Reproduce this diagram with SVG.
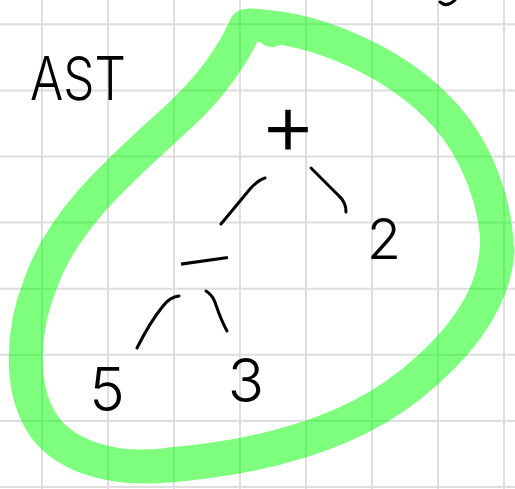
<svg xmlns="http://www.w3.org/2000/svg" width="515" height="489" viewBox="0 0 515 489">
<style>
.grid line{stroke:#dedede;stroke-width:2}
.loop path{fill:none;stroke:#00ff00;stroke-linecap:round;stroke-linejoin:round}
.hand{font-family:Inter,"Open Sans","Liberation Sans",sans-serif;font-weight:300;fill:#000}
.edge{fill:none;stroke:#000;stroke-width:3;stroke-linecap:round;stroke-linejoin:round}
</style>
<rect width="515" height="489" fill="#fff"/>
<g class="grid">
<line x1="42" y1="0" x2="42" y2="489"/><line x1="108" y1="0" x2="108" y2="489"/><line x1="174" y1="0" x2="174" y2="489"/><line x1="240" y1="0" x2="240" y2="489"/><line x1="306" y1="0" x2="306" y2="489"/><line x1="372" y1="0" x2="372" y2="489"/><line x1="438" y1="0" x2="438" y2="489"/><line x1="504" y1="0" x2="504" y2="489"/>
<line x1="0" y1="24.3" x2="515" y2="24.3"/><line x1="0" y1="90.4" x2="515" y2="90.4"/><line x1="0" y1="156.5" x2="515" y2="156.5"/><line x1="0" y1="222.6" x2="515" y2="222.6"/><line x1="0" y1="288.7" x2="515" y2="288.7"/><line x1="0" y1="354.8" x2="515" y2="354.8"/><line x1="0" y1="420.9" x2="515" y2="420.9"/><line x1="0" y1="487" x2="515" y2="487"/>
</g>
<g id="loop" class="loop" opacity="0.5">
<path stroke-width="33" d="M250 25 C320 27 400 65 445 115 C478 152 497 205 497 250"/>
<path stroke-width="35" d="M497 250 C494 300 460 345 410 385 C360 425 285 455 170 465"/>
<path stroke-width="34" d="M170 465 C110 472 60 455 40 420 C20 385 22 330 40 285 C62 220 120 170 175 120 C205 93 230 62 246 26"/>
<circle cx="272" cy="31" r="16" fill="#00ff00"/>
</g>
<path class="edge" d="M440 2 Q447 8 455 0"/>
<g id="label-ast"><text class="hand" x="78" y="100" font-size="60" text-anchor="middle" textLength="96" lengthAdjust="spacingAndGlyphs">AST</text></g>
<g id="node-plus"><text class="hand" x="288" y="155" font-size="88" text-anchor="middle">+</text></g>
<g id="node-minus"><text class="hand" x="204" y="275" font-size="50" text-anchor="middle" textLength="70" lengthAdjust="spacingAndGlyphs" transform="rotate(-8 204 258)">−</text></g>
<g id="node-2"><text class="hand" x="384" y="259" font-size="56" text-anchor="middle">2</text></g>
<g id="node-5"><text class="hand" x="107" y="411" font-size="60" text-anchor="middle">5</text></g>
<g id="node-3"><text class="hand" x="246" y="402" font-size="60" text-anchor="middle">3</text></g>
<g id="connectors">
<path class="edge" d="M265 178 Q258 180 250 189 L221 224"/>
<path class="edge" d="M311 168 L339 196 Q346 202 346 212"/>
<path class="edge" d="M179 296 Q170 297 163 306 Q150 322 137 348"/>
<path class="edge" d="M206 291 Q213 295 216 305 Q221 320 227 331"/>
</g>
</svg>
